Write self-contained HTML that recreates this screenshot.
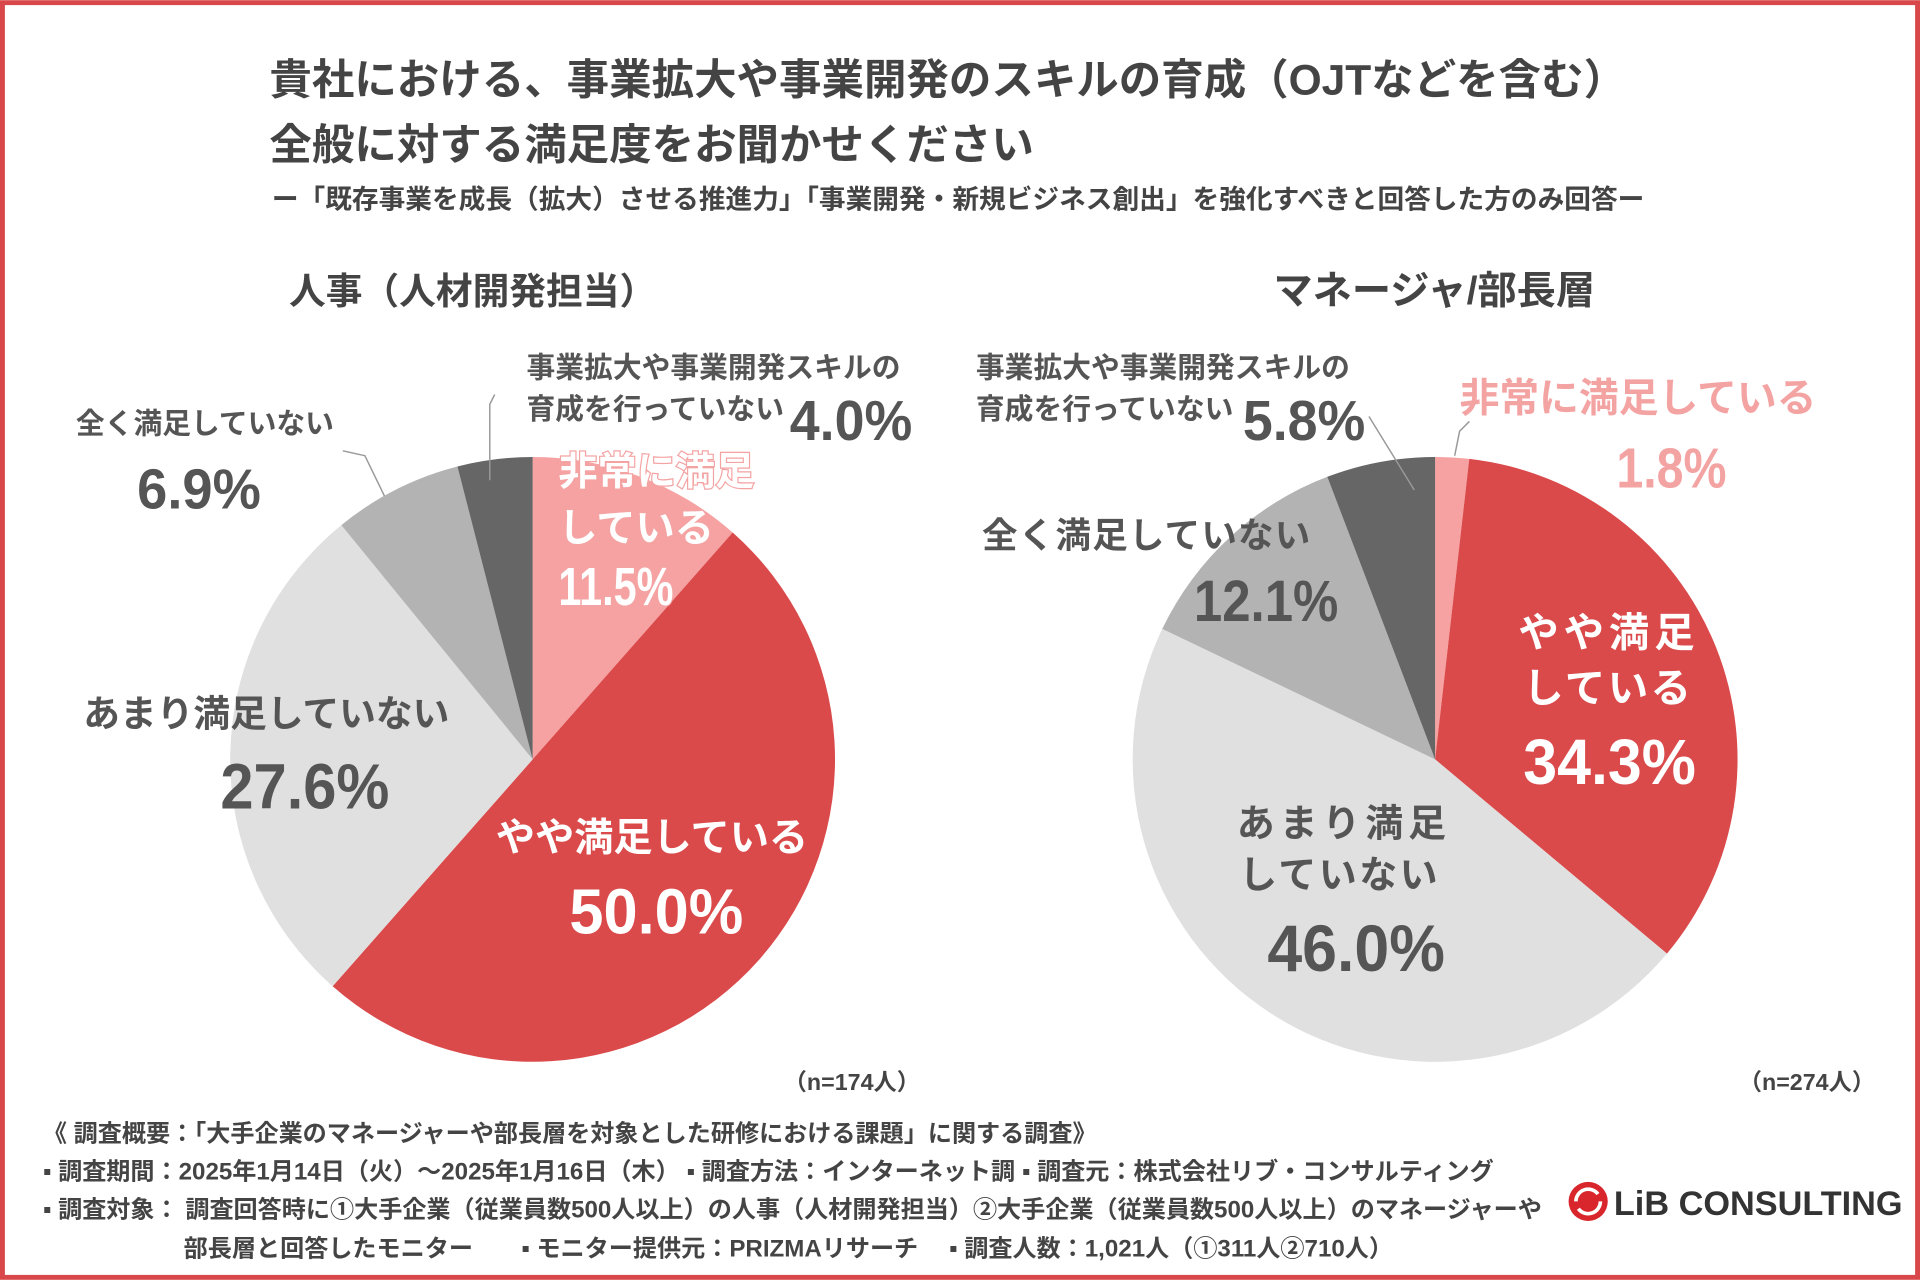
<!DOCTYPE html>
<html><head><meta charset="utf-8">
<style>
html,body{margin:0;padding:0;background:#fff;}
svg{display:block;}
text{font-family:"Liberation Sans","Noto Sans CJK JP",sans-serif;font-weight:bold;}
</style></head>
<body>
<svg id="chart" width="1920" height="1280" viewBox="0 0 1568 1045" xmlns="http://www.w3.org/2000/svg">
<rect x="2" y="2" width="1564" height="1041" fill="#fff" stroke="#d9474a" stroke-width="4"/>
<g fill="#444">
<text x="220" y="77" font-size="34.7">貴社における、事業拡大や事業開発のスキルの育成（OJTなどを含む）</text>
<text x="220" y="130" font-size="34.7">全般に対する満足度をお聞かせください</text>
</g>
<text x="222" y="170" font-size="21.8" fill="#444">ー「既存事業を成長（拡大）させる推進力」「事業開発・新規ビジネス創出」を強化すべきと回答した方のみ回答ー</text>
<text x="236" y="248" font-size="30" fill="#444">人事（人材開発担当）</text>
<text x="1040" y="248" font-size="32" fill="#444">マネージャ/部長層</text>
<g id="pies"></g>

<g stroke="#999" stroke-width="1.2" fill="none">
<polyline points="280,368 298,372 314,405"/>
<polyline points="404,322 400,330 400,392"/>
<polyline points="1118,340 1155,400"/>
<polyline points="1200,344 1192,352 1188,372"/>
</g>

<g>
<text x="430" y="308" font-size="23.5" fill="#555">事業拡大や事業開発スキルの</text>
<text x="430" y="342" font-size="23.5" fill="#555">育成を行っていない</text>
<text x="645" y="359" font-size="46" fill="#555" textLength="100" lengthAdjust="spacingAndGlyphs">4.0%</text>
<text x="62" y="354" font-size="23.5" fill="#555">全く満足していない</text>
<text x="112" y="415" font-size="46" fill="#555" textLength="101" lengthAdjust="spacingAndGlyphs">6.9%</text>
<g fill="#fff" stroke="#f4a3a3" stroke-width="2" paint-order="stroke">
<text x="456" y="396" font-size="32">非常に満足</text>
<text x="456" y="442" font-size="32">している</text>
<text x="456" y="494" font-size="44" textLength="94" lengthAdjust="spacingAndGlyphs">11.5%</text>
</g>
<text x="68" y="593" font-size="30" fill="#555">あまり満足していない</text>
<text x="180" y="660" font-size="52" fill="#555" textLength="138" lengthAdjust="spacingAndGlyphs">27.6%</text>
<text x="405" y="695" font-size="32" fill="#fff">やや満足している</text>
<text x="465" y="762" font-size="52" fill="#fff" textLength="142" lengthAdjust="spacingAndGlyphs">50.0%</text>
<text x="640" y="890" font-size="19" fill="#444">（n=174人）</text>
</g>

<g>
<text x="797" y="308" font-size="23.5" fill="#555">事業拡大や事業開発スキルの</text>
<text x="797" y="342" font-size="23.5" fill="#555">育成を行っていない</text>
<text x="1015" y="359" font-size="46" fill="#555" textLength="100" lengthAdjust="spacingAndGlyphs">5.8%</text>
<text x="1192" y="336" font-size="32.5" fill="#f4a3a3">非常に満足している</text>
<text x="1320" y="398" font-size="46" fill="#f4a3a3" textLength="90" lengthAdjust="spacingAndGlyphs">1.8%</text>
<text x="802" y="447" font-size="29" fill="#555" letter-spacing="1">全く満足していない</text>
<text x="975" y="507" font-size="48" fill="#555" textLength="118" lengthAdjust="spacingAndGlyphs">12.1%</text>
<text x="1240" y="528" font-size="33" fill="#fff" letter-spacing="4">やや満足</text>
<text x="1244" y="573" font-size="33" fill="#fff" letter-spacing="2">している</text>
<text x="1244" y="640" font-size="52" fill="#fff" textLength="141" lengthAdjust="spacingAndGlyphs">34.3%</text>
<text x="1010" y="683" font-size="31" fill="#555" letter-spacing="4">あまり満足</text>
<text x="1012" y="725" font-size="31" fill="#555" letter-spacing="2">していない</text>
<text x="1035" y="793" font-size="54" fill="#555" textLength="145" lengthAdjust="spacingAndGlyphs">46.0%</text>
<text x="1420" y="890" font-size="19" fill="#444">（n=274人）</text>
</g>

<g fill="#444" font-size="19.7">
<text x="35" y="932">《 調査概要：「大手企業のマネージャーや部長層を対象とした研修における課題」に関する調査》</text>
<text x="35" y="963">▪ 調査期間：2025年1月14日（火）〜2025年1月16日（木） ▪ 調査方法：インターネット調 ▪ 調査元：株式会社リブ・コンサルティング</text>
<text x="35" y="994">▪ 調査対象： 調査回答時に①大手企業（従業員数500人以上）の人事（人材開発担当）②大手企業（従業員数500人以上）のマネージャーや</text>
<text x="150" y="1026">部長層と回答したモニター　　▪ モニター提供元：PRIZMAリサーチ　 ▪ 調査人数：1,021人（①311人②710人）</text>
</g>
<g>
<circle cx="1297" cy="981" r="16" fill="#d9262c"/>
<path d="M1287 981 a10 10 0 0 1 18 -6 M1307 981 a10 10 0 0 1 -18 6" stroke="#fff" stroke-width="3" fill="none"/>
<text x="1318" y="992" font-size="28" fill="#333" font-weight="normal">LiB CONSULTING</text>
</g>
</svg>
<script>
const categories = ["非常に満足している","やや満足している","あまり満足していない","全く満足していない","事業拡大や事業開発スキルの育成を行っていない"];
const leftValues = [11.5, 50.0, 27.6, 6.9, 4.0];
const rightValues = [1.8, 34.3, 46.0, 12.1, 5.8];
const sliceColors = ["#f6a2a2","#db4a4b","#e0e0e0","#b3b3b3","#666666"];
const NS = "http://www.w3.org/2000/svg";
function drawPie(values, cx, cy, r, name){
  const g = document.createElementNS(NS,"g");
  
  
  const total = values.reduce((a,b)=>a+b,0);
  let acc = 0;
  values.forEach((v,i)=>{
    const a0 = acc/total*2*Math.PI; acc += v;
    const a1 = acc/total*2*Math.PI;
    const x0 = cx + r*Math.sin(a0), y0 = cy - r*Math.cos(a0);
    const x1 = cx + r*Math.sin(a1), y1 = cy - r*Math.cos(a1);
    const large = (a1-a0) > Math.PI ? 1 : 0;
    const p = document.createElementNS(NS,"path");
    p.setAttribute("d", `M${cx},${cy} L${x0},${y0} A${r},${r} 0 ${large} 1 ${x1},${y1} Z`);
    p.setAttribute("fill", sliceColors[i]);
    
    
    g.appendChild(p);
  });
  document.getElementById("pies").appendChild(g);
}
drawPie(leftValues, 435, 620, 247, "left-pie");
drawPie(rightValues, 1172, 620, 247, "right-pie");
</script>
</body></html>
